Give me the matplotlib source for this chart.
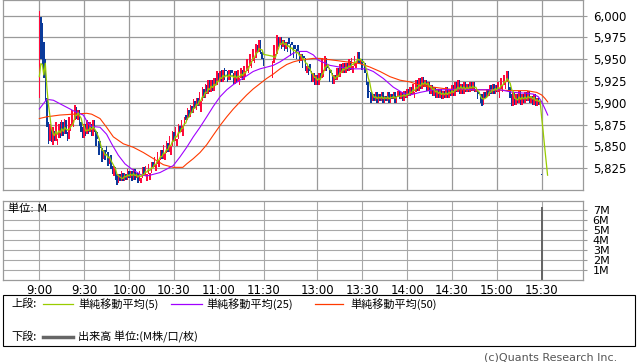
import numpy as np
import pandas as pd
import matplotlib
matplotlib.use("Agg")
import matplotlib.pyplot as plt
from matplotlib.lines import Line2D
from matplotlib.patches import Rectangle

plt.rcParams['font.family'] = ['DejaVu Sans', 'Noto Sans CJK JP']

# 1分足 (前場 9:00-11:30) 始値 / 終値
am_open = [
    5905, 5998, 5992, 5970, 5950,
    5905, 5878, 5856, 5870, 5852, 5868, 5856, 5852, 5860, 5878, 5862, 5878, 5864, 5880, 5866, 5858,
    5868, 5874, 5872, 5880, 5895, 5880, 5892,
    5878, 5872, 5860, 5876, 5864, 5878, 5866, 5876, 5862, 5880,
    5868, 5866, 5856, 5856, 5848, 5836, 5846, 5850, 5844, 5830, 5840, 5828,
    5816, 5826, 5818, 5808, 5818, 5810, 5820, 5810, 5818, 5812, 5822, 5814,
    5822, 5812, 5824, 5814, 5820, 5810, 5808, 5814, 5826, 5816, 5810, 5818, 5812, 5820,
    5832, 5826, 5822, 5830, 5826, 5834, 5846, 5836, 5834, 5842, 5854, 5844, 5840,
    5850, 5866, 5856, 5850, 5858, 5874, 5866, 5862, 5874, 5886, 5880, 5892,
    5884, 5896, 5888, 5902, 5892, 5906, 5896, 5890, 5902, 5916, 5906, 5920, 5910,
    5926, 5912, 5926, 5914, 5928, 5920, 5934,
    5924, 5938, 5924, 5940, 5938, 5936, 5926, 5938, 5938, 5934, 5922, 5936, 5924,
    5920, 5928, 5938, 5926,
    5930, 5936, 5934, 5942, 5940, 5948, 5946, 5952, 5966, 5958, 5972, 5958, 5952,
]
am_close = [
    6005, 5950, 5942, 5928, 5902,
    5872, 5853, 5876, 5855, 5872, 5856, 5878, 5858, 5876, 5860, 5880, 5862, 5882, 5864, 5856, 5884,
    5876, 5892, 5880, 5897, 5882, 5892, 5874,
    5866, 5860, 5876, 5862, 5880, 5864, 5878, 5862, 5880, 5866,
    5850, 5858, 5840, 5848, 5832, 5846, 5834, 5844, 5828, 5838, 5824, 5818,
    5828, 5812, 5806, 5818, 5810, 5822, 5810, 5820, 5812, 5824, 5814, 5822,
    5810, 5824, 5812, 5820, 5808, 5822, 5814, 5826, 5816, 5828, 5818, 5830, 5820, 5832,
    5826, 5838, 5830, 5844, 5834, 5846, 5836, 5852, 5842, 5856, 5844, 5862, 5850,
    5868, 5856, 5872, 5858, 5876, 5866, 5880, 5874, 5884, 5880, 5894, 5884,
    5898, 5888, 5904, 5894, 5906, 5896, 5912, 5902, 5918, 5906, 5922, 5910, 5926,
    5912, 5926, 5914, 5928, 5920, 5936, 5924,
    5936, 5924, 5938, 5926, 5936, 5924, 5938, 5926, 5934, 5922, 5936, 5924, 5938,
    5928, 5940, 5926, 5942,
    5936, 5950, 5942, 5956, 5948, 5962, 5952, 5968, 5958, 5972, 5956, 5950, 5942,
]
# 1分足 (後場 12:30-15:30) 始値 / 終値
pm_open = [
    5928, 5946, 5950, 5956, 5976, 5966, 5976, 5964, 5972, 5962, 5970, 5974, 5968,
    5970, 5966, 5966, 5962, 5966, 5960, 5948, 5956, 5954, 5952, 5934, 5942, 5944,
    5936, 5924, 5934, 5920, 5932, 5920,
    5934, 5928, 5930, 5936, 5952, 5942, 5940, 5938, 5934, 5922, 5932, 5926, 5940,
    5930, 5944, 5934, 5946, 5934, 5946, 5936, 5948, 5938, 5934, 5942, 5940, 5946,
    5958, 5944, 5950, 5948,
    5946, 5934, 5924, 5914, 5912, 5902, 5910,
    5902, 5912, 5900, 5910, 5902, 5912, 5900, 5908, 5902, 5912, 5900, 5910, 5904,
    5912, 5900, 5908, 5914, 5904, 5912, 5902, 5914, 5906, 5916, 5908,
    5918, 5910, 5906, 5912, 5926, 5914, 5928, 5916, 5930, 5918, 5926, 5914, 5924,
    5910, 5920, 5908, 5918, 5906, 5916, 5906, 5916, 5904, 5914,
    5906, 5918, 5906, 5916, 5908, 5920, 5908, 5924, 5912, 5926, 5910, 5922, 5910,
    5924, 5912, 5922, 5912, 5924, 5914, 5924,
    5912, 5916, 5912, 5910, 5910, 5898, 5912, 5906, 5916, 5908, 5920, 5910, 5922,
    5910, 5920,
    5912, 5906, 5916, 5912, 5920, 5916, 5924, 5936, 5918, 5910,
    5896, 5912, 5898, 5910, 5900, 5914, 5898, 5910, 5900, 5912, 5902, 5914, 5900,
    5908, 5898, 5910, 5896, 5906, 5898,
    5817,
]
pm_close = [
    5948, 5966, 5956, 5978, 5964, 5976, 5962, 5972, 5960, 5970, 5958, 5968, 5954,
    5966, 5952, 5962, 5950, 5960, 5946, 5956, 5940, 5952, 5936, 5942, 5932, 5936,
    5924, 5934, 5920, 5932, 5920, 5934,
    5926, 5952, 5938, 5954, 5936, 5940, 5924, 5934, 5922, 5932, 5926, 5940, 5930,
    5944, 5934, 5946, 5934, 5946, 5936, 5950, 5938, 5952, 5942, 5954, 5946, 5958,
    5944, 5950, 5938, 5946,
    5934, 5920, 5906, 5912, 5900, 5910, 5902,
    5912, 5900, 5910, 5902, 5912, 5900, 5908, 5902, 5912, 5900, 5910, 5904, 5912,
    5900, 5908, 5914, 5904, 5912, 5902, 5914, 5906, 5916, 5908, 5918,
    5910, 5922, 5912, 5926, 5914, 5928, 5916, 5930, 5918, 5926, 5914, 5924, 5910,
    5920, 5908, 5918, 5906, 5916, 5906, 5916, 5904, 5914, 5906,
    5918, 5906, 5916, 5908, 5920, 5908, 5924, 5912, 5926, 5910, 5922, 5910, 5924,
    5912, 5922, 5912, 5924, 5914, 5924, 5912,
    5916, 5904, 5910, 5900, 5896, 5912, 5906, 5916, 5908, 5920, 5910, 5922, 5910,
    5920, 5912,
    5924, 5916, 5928, 5920, 5932, 5924, 5936, 5914, 5906, 5896,
    5912, 5898, 5910, 5900, 5914, 5898, 5910, 5900, 5912, 5902, 5914, 5900, 5908,
    5898, 5910, 5896, 5906, 5898, 5902,
    5817,
]
tail_close = [5817, 5817, 5817, 5817]   # 15:30以降 (MAのみ)
ma5_first = [5930, 5945, 5944, 5932]

# 単純移動平均(25) / (50) 読み取り値 (足インデックス, 値)
ma25_pos = [0, 5, 9.4, 16, 22.7, 29.4, 32.8, 35, 40.6, 45, 48.4, 52.8, 57.3, 61.8,
            67.4, 71.8, 76.3, 80.7, 85.2, 89.6, 94.1, 98.6, 103, 107.5, 112, 116.4,
            120.9, 125.4, 129.8, 134.2, 138.7, 143.1, 147.6, 152.1, 156.5, 161,
            165.5, 169.9, 174.4, 178.9, 183.3, 186.6, 194.4, 201.1, 210, 219,
            223.4, 230.1, 236.8, 243.5, 248, 254.7, 263.5, 272.5, 281.4, 290.3,
            299.3, 308.2, 317.1, 326, 330.4, 333.8, 336.1, 338.3, 340.1]
ma25_val = [5893, 5904, 5903, 5897, 5891, 5886, 5876, 5873, 5872, 5864, 5853, 5840,
            5830, 5824, 5818, 5816, 5818, 5820, 5824, 5828, 5838, 5849, 5861, 5872,
            5884, 5896, 5907, 5915, 5921, 5926, 5931, 5936, 5939, 5941, 5943, 5947,
            5952, 5957, 5959, 5959, 5955, 5949, 5943, 5941, 5939, 5939, 5936, 5928,
            5918, 5911, 5909, 5912, 5915, 5915, 5916, 5915, 5915, 5915, 5912, 5911,
            5910, 5907, 5901, 5893, 5886]
ma50_pos = [0, 5, 13.8, 22.7, 31.7, 35, 40.6, 45, 49.5, 56.2, 62.9, 69.6, 76.3, 83,
            89.6, 96, 98.6, 103, 107.5, 112, 116.4, 120.9, 125.4, 129.8, 134.2,
            138.7, 143.1, 147.6, 152.1, 156.5, 161, 165.5, 169.9, 174.4, 183.3,
            187.7, 196.6, 205.6, 214.5, 221.2, 227.9, 234.6, 241.3, 248, 254.7,
            263.5, 272.5, 281.4, 299.3, 317.1, 326, 332.7, 336.1, 338.3, 340.1]
ma50_val = [5882, 5884, 5886, 5887, 5888, 5887, 5882, 5872, 5861, 5853, 5849, 5843,
            5836, 5829, 5826, 5826, 5830, 5836, 5843, 5852, 5863, 5874, 5884, 5893,
            5901, 5909, 5916, 5922, 5928, 5933, 5939, 5944, 5947, 5949, 5951, 5951,
            5949, 5947, 5945, 5941, 5936, 5930, 5926, 5924, 5920, 5918, 5916, 5915,
            5915, 5914, 5914, 5912, 5909, 5905, 5901]

vol_pos = [336]
vol_val = [7.3]   # M

time_labels = ["9:00", "9:30", "10:00", "10:30", "11:00", "11:30",
               "13:00", "13:30", "14:00", "14:30", "15:00", "15:30"]
time_pos = [0, 30, 60, 90, 120, 150, 186, 216, 246, 276, 306, 336]
price_ticks = [5825, 5850, 5875, 5900, 5925, 5950, 5975, 6000]
vol_ticks = [1, 2, 3, 4, 5, 6, 7]

# ---- 足データ組み立て ----
PM_START = 156
am_x = np.arange(len(am_close))
pm_x = PM_START + np.arange(len(pm_close))
tail_x = pm_x[-1] + 1 + np.arange(len(tail_close))

bar_x = np.concatenate([am_x, pm_x])
opens = np.array(am_open + pm_open, float)
close = np.array(am_close + pm_close, float)

all_close = pd.Series(am_close + pm_close + tail_close, dtype=float)
ma5 = all_close.rolling(5).mean().to_numpy()
ma5[:4] = ma5_first
ma5_x = np.concatenate([bar_x, tail_x])

UP, DOWN = "#ff0a3c", "#0a3a9a"
GRID = "#9a9a9a"

fig = plt.figure(figsize=(6.38, 3.62), dpi=100)
ax = fig.add_axes([3 / 638, 172 / 362, 580 / 638, 190 / 362])
axv = fig.add_axes([3 / 638, 82 / 362, 580 / 638, 79 / 362])

xlim = (-24.3, 363.7)

# ---- 上段 ----
body = close - opens
body = np.where(np.abs(body) < 0.5, 0.9, body)
colors = np.where(close > opens, UP, DOWN)
ax.bar(bar_x, body, bottom=opens, width=1.0, color=colors, linewidth=0, zorder=2)
ax.plot(ma50_pos, ma50_val, color="#ff3a00", lw=0.8, zorder=3)
ax.plot(ma25_pos, ma25_val, color="#a000ff", lw=0.8, zorder=3)
ax.plot(ma5_x, ma5, color="#99cc00", lw=0.9, zorder=4)

ax.set_xlim(*xlim)
ax.set_ylim(5800, 6018)
ax.set_yticks(price_ticks)
ax.set_yticklabels([f"{v:,}" for v in price_ticks])
ax.set_xticks(time_pos)
ax.set_xticklabels([])
ax.yaxis.tick_right()
ax.tick_params(axis="y", length=3, width=0.8, color=GRID, pad=4, labelsize=8.5)
ax.tick_params(axis="x", length=0)
ax.grid(True, color=GRID, lw=0.9)
ax.set_axisbelow(True)
for s in ax.spines.values():
    s.set_color(GRID)
    s.set_linewidth(0.9)

# ---- 下段 ----
axv.bar(vol_pos, vol_val, width=1.4, color="#666666", linewidth=0, zorder=2)
axv.set_xlim(*xlim)
axv.set_ylim(0, 7.9)
axv.set_yticks(vol_ticks)
axv.set_yticklabels([f"{v}M" for v in vol_ticks])
axv.set_xticks(time_pos)
axv.set_xticklabels(time_labels)
axv.yaxis.tick_right()
axv.tick_params(axis="y", length=3, width=0.8, color=GRID, pad=4, labelsize=8)
axv.tick_params(axis="x", length=0, pad=3, labelsize=8.5)
axv.grid(True, color="#a8a8a8", lw=0.8)
axv.set_axisbelow(True)
for s in axv.spines.values():
    s.set_color(GRID)
    s.set_linewidth(0.9)
axv.text(8 / 638, 1 - 209 / 362, "単位: M", transform=fig.transFigure,
         fontsize=8, va="center", ha="left")

# ---- 凡例 ----
def fx(px):
    return px / 638

def fy(py):
    return 1 - py / 362

fig.add_artist(Rectangle((fx(3), fy(346)), fx(632), 51 / 362, transform=fig.transFigure,
                         fill=False, edgecolor="black", lw=0.8))
jp = ["Noto Sans CJK JP", "DejaVu Sans"]
fig.text(fx(11), fy(304), "上段:", fontsize=8, va="center", family=jp)
legend_items = [(43, 73, 78, "#99cc00", "単純移動平均(5)"),
                (171, 202, 206, "#a000ff", "単純移動平均(25)"),
                (315, 343, 350, "#ff3a00", "単純移動平均(50)")]
for x0, x1, xt, col, lab in legend_items:
    fig.add_artist(Line2D([fx(x0), fx(x1)], [fy(304), fy(304)], color=col, lw=0.9,
                          transform=fig.transFigure))
    fig.text(fx(xt), fy(304), lab, fontsize=8, va="center", family=jp)
fig.text(fx(11), fy(337), "下段:", fontsize=8, va="center", family=jp)
fig.add_artist(Line2D([fx(43), fx(73)], [fy(337), fy(337)], color="#666666", lw=2.5,
                      transform=fig.transFigure))
fig.text(fx(78), fy(337), "出来高 単位:(M株/口/枚)", fontsize=8, va="center", family=jp)

fig.text(fx(617), fy(357), "(c)Quants Research Inc.", fontsize=8, va="center",
         ha="right", color="#555555")

fig.savefig("out.png", dpi=100)
